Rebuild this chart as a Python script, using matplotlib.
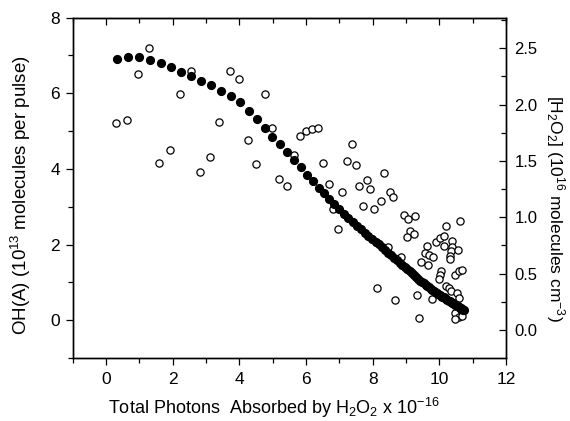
import matplotlib
matplotlib.use('Agg')
import matplotlib.pyplot as plt
from matplotlib.ticker import MultipleLocator

plt.rcParams['font.family'] = ['Liberation Sans', 'DejaVu Sans']
plt.rcParams['mathtext.default'] = 'regular'

# OH(A) signal, open circles (left axis)
oh_x = [0.30, 0.63, 0.96, 1.29, 1.60, 1.91, 2.23, 2.54, 2.82, 3.11, 3.40, 3.72, 3.99,
        4.25, 4.50, 4.76, 4.98, 5.20, 5.42, 5.63, 5.82, 6.00, 6.18, 6.36, 6.52, 6.68,
        6.81, 6.95, 7.09, 7.22, 7.37, 7.49, 7.60, 7.71, 7.83, 7.93, 8.03, 8.14, 8.24,
        8.34, 8.46, 8.51, 8.60, 8.68, 8.85,
        8.93, 9.06, 9.26, 9.12, 9.02, 9.24, 10.20, 10.63,
        9.91, 10.03, 10.13, 10.13, 10.39,
        9.64, 9.58, 9.68, 9.82, 9.45, 9.66,
        10.39, 10.36, 10.56, 10.33, 10.31,
        10.05, 10.01, 9.98,
        10.46, 10.60, 10.68,
        10.21, 10.29, 10.36, 10.53, 10.60,
        9.33, 9.78, 9.40,
        10.46, 10.58, 10.68, 10.48]
oh_y = [5.21, 5.29, 6.50, 7.19, 4.15, 4.51, 5.98, 6.60, 3.92, 4.31, 5.23, 6.59, 6.38,
        4.77, 4.13, 5.98, 5.09, 3.74, 3.56, 4.36, 4.87, 5.00, 5.06, 5.07, 4.16, 3.61,
        2.93, 2.42, 3.38, 4.20, 4.65, 4.10, 3.54, 3.03, 3.70, 3.47, 2.94, 0.86, 3.14,
        3.89, 1.93, 3.38, 3.27, 0.53, 1.66,
        2.77, 2.68, 2.75, 2.37, 2.20, 2.28, 2.50, 2.63,
        2.08, 2.17, 2.23, 1.97, 2.10,
        1.95, 1.78, 1.72, 1.66, 1.53, 1.46,
        1.93, 1.84, 1.86, 1.71, 1.62,
        1.31, 1.20, 1.09,
        1.20, 1.31, 1.33,
        0.91, 0.85, 0.78, 0.71, 0.60,
        0.67, 0.56, 0.07,
        0.20, 0.09, 0.11, 0.04]

# [H2O2], filled circles (right axis)
h2o2_x = [0.33, 0.66, 0.99, 1.32, 1.64, 1.95, 2.26, 2.56, 2.86, 3.16, 3.45, 3.74, 4.01,
          4.28, 4.52, 4.77, 4.99, 5.22, 5.42, 5.63, 5.84, 6.03, 6.20, 6.38, 6.54,
          6.70, 6.85, 7.00, 7.14, 7.27, 7.40, 7.52, 7.64, 7.76, 7.87,
          7.98, 8.09, 8.19, 8.29, 8.38, 8.47, 8.56, 8.65, 8.73, 8.81,
          8.89, 8.97, 9.04, 9.11, 9.18, 9.24, 9.30, 9.37, 9.42, 9.48,
          9.54, 9.59, 9.64, 9.69, 9.74, 9.79, 9.84, 9.88, 9.93, 9.97,
          10.01, 10.05, 10.09, 10.13, 10.17, 10.21, 10.24, 10.28, 10.31, 10.35,
          10.38, 10.41, 10.44, 10.47, 10.50, 10.53, 10.56, 10.59, 10.61, 10.64,
          10.66, 10.69, 10.71, 10.74]
h2o2_y = [2.403, 2.426, 2.420, 2.396, 2.370, 2.336, 2.286, 2.256, 2.209, 2.172, 2.122,
          2.078, 2.021, 1.947, 1.870, 1.793, 1.716, 1.649, 1.576, 1.508, 1.442, 1.378,
          1.318, 1.264, 1.214,
          1.165, 1.118, 1.073, 1.031, 0.995, 0.960, 0.927, 0.895, 0.864, 0.837,
          0.810, 0.784, 0.759, 0.735, 0.711, 0.687, 0.663, 0.640, 0.618, 0.597,
          0.576, 0.557, 0.538, 0.520, 0.502, 0.485, 0.469, 0.453, 0.438, 0.425,
          0.413, 0.401, 0.390, 0.379, 0.368, 0.357, 0.347, 0.337, 0.327, 0.318,
          0.310, 0.303, 0.296, 0.289, 0.282, 0.275, 0.268, 0.261, 0.255, 0.249,
          0.243, 0.237, 0.231, 0.225, 0.220, 0.214, 0.209, 0.204, 0.199, 0.194,
          0.189, 0.185, 0.180, 0.176]

fig = plt.figure(figsize=(5.7, 4.21), dpi=100)
ax = fig.add_axes([0.1275, 0.1496, 0.7605, 0.8085])
ax2 = ax.twinx()

ax.plot(oh_x, oh_y, 'o', mfc='white', mec='black', mew=0.9, ms=5.2)
ax2.plot(h2o2_x, h2o2_y, 'o', color='black', ms=5.6)

ax.set_xlim(-1, 12)
ax.set_ylim(-1, 8)
ax2.set_ylim(-0.248, 2.771)

ax.xaxis.set_major_locator(MultipleLocator(2))
ax.xaxis.set_minor_locator(MultipleLocator(1))
ax.yaxis.set_major_locator(MultipleLocator(2))
ax.yaxis.set_minor_locator(MultipleLocator(1))
ax2.yaxis.set_major_locator(MultipleLocator(0.5))
ax2.yaxis.set_minor_locator(MultipleLocator(0.25))
ax2.yaxis.set_major_formatter(plt.FormatStrFormatter('%.1f'))

ax.tick_params(axis='x', which='both', direction='out', top=False, labelsize=12.5, pad=5)
ax.tick_params(axis='y', which='both', direction='out', right=False, labelsize=12.5, pad=4)
ax.tick_params(which='major', length=5, width=0.9)
ax.tick_params(which='minor', length=3.5, width=0.9)
ax2.tick_params(which='both', direction='in', labelsize=12, width=0.9, pad=6)
ax2.tick_params(which='major', length=5)
ax2.tick_params(which='minor', length=3.5)

# inward ticks along the top edge
top = ax.secondary_xaxis('top')
top.xaxis.set_major_locator(MultipleLocator(2))
top.xaxis.set_minor_locator(MultipleLocator(1))
top.tick_params(which='both', direction='in', labeltop=False, width=0.9)
top.tick_params(which='major', length=5)
top.tick_params(which='minor', length=3.5)

for a in (ax, ax2):
    for s in a.spines.values():
        s.set_linewidth(1.0)

ax.set_xlabel('Total Photons  Absorbed by H$_2$O$_2$ x 10$^{-16}$', fontsize=13)
ax.xaxis.set_label_coords(0.464, -0.112)
ax.set_ylabel('OH(A) (10$^{13}$ molecules per pulse)', fontsize=13.5)
ax.yaxis.set_label_coords(-0.092, 0.478)
ax2.set_ylabel('[H$_2$O$_2$] (10$^{16}$ molecules cm$^{-3}$)', fontsize=12.5,
               rotation=270)
ax2.yaxis.set_label_coords(1.14, 0.44)

plt.savefig('out.png', dpi=100)
